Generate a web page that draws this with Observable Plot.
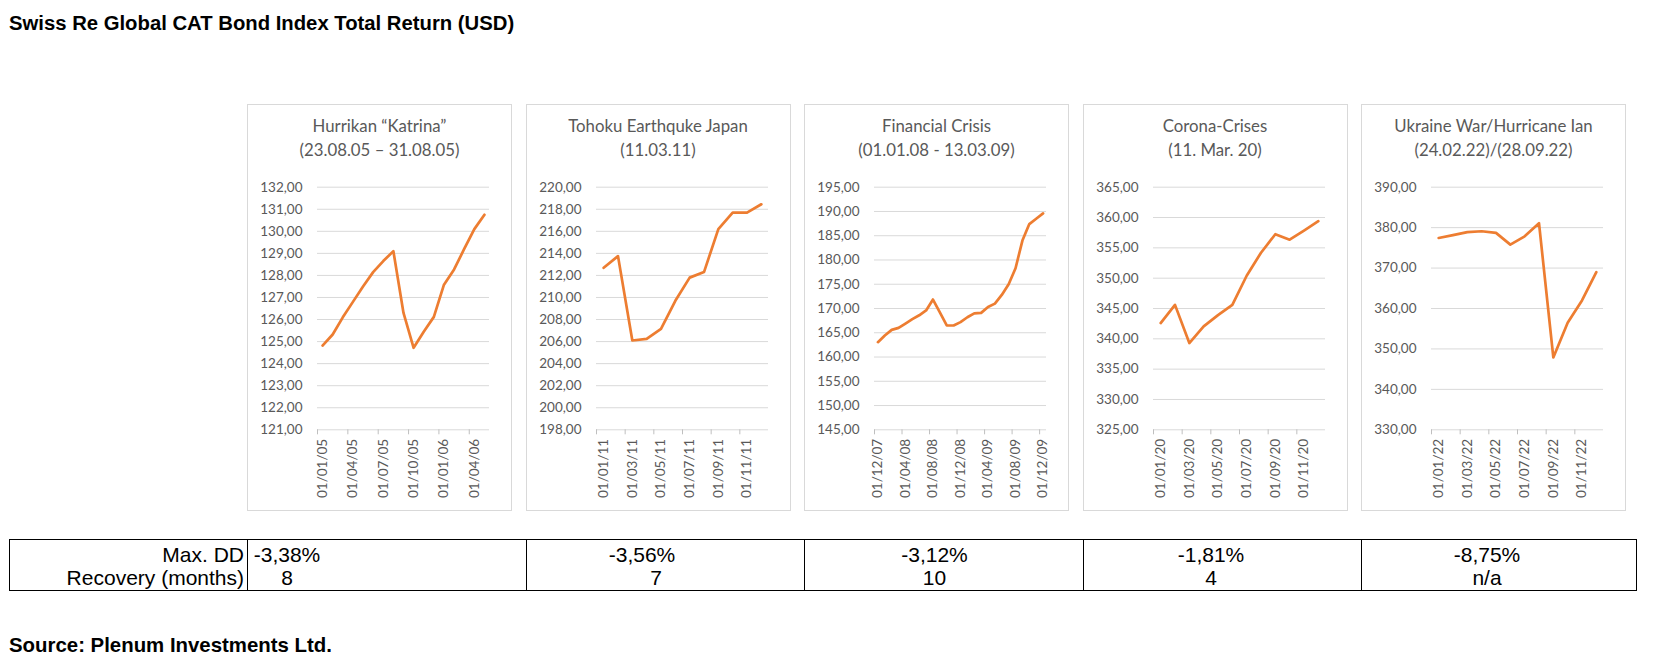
<!DOCTYPE html>
<html><head><meta charset="utf-8">
<script src="https://cdn.jsdelivr.net/npm/d3@7"></script>
<script src="https://cdn.jsdelivr.net/npm/@observablehq/plot@0.6"></script>
<style>
html,body{margin:0;padding:0;background:#fff;}
#root{position:relative;width:1665px;height:668px;overflow:hidden;font-family:"Liberation Sans",Arial,sans-serif;color:#000;}
.title{position:absolute;left:9px;top:11px;font-weight:bold;font-size:20.3px;line-height:24px;white-space:nowrap;}
.source{position:absolute;left:9px;top:633px;font-weight:bold;font-size:20.4px;line-height:24px;white-space:nowrap;}
.panel{position:absolute;top:104px;width:265px;height:407px;box-sizing:border-box;border:1px solid #d9d9d9;}
.plot{position:absolute;top:101px;width:265px;height:410px;}
.ptitle{position:absolute;top:114px;width:265px;text-align:center;font-family:Lato,sans-serif;font-size:16.8px;line-height:24px;color:#595959;white-space:nowrap;}
.tbl{position:absolute;left:9px;top:539px;width:1628px;height:52px;box-sizing:border-box;border:1px solid #000;}
.vline{position:absolute;top:539px;width:1px;height:52px;background:#000;}
.cell{position:absolute;font-size:21px;line-height:23px;white-space:nowrap;}
</style></head>
<body><div id="root"></div>
<script>
// ---------- data ----------
const chartTitle = "Swiss Re Global CAT Bond Index Total Return (USD)";
const sourceText = "Source: Plenum Investments Ltd.";

const titles1 = ["Hurrikan “Katrina”", "Tohoku Earthquke Japan", "Financial Crisis", "Corona-Crises", "Ukraine War/Hurricane Ian"];
const titles2 = ["(23.08.05 – 31.08.05)", "(11.03.11)", "(01.01.08 - 13.03.09)", "(11. Mar. 20)", "(24.02.22)/(28.09.22)"];

const months1 = ["01/01/05","01/02/05","01/03/05","01/04/05","01/05/05","01/06/05","01/07/05","01/08/05","01/09/05","01/10/05","01/11/05","01/12/05","01/01/06","01/02/06","01/03/06","01/04/06","01/05/06"];
const values1 = [124.82,125.32,126.10,126.80,127.50,128.15,128.65,129.10,126.30,124.72,125.45,126.12,127.58,128.27,129.20,130.10,130.75];
const yTicks1 = [121,122,123,124,125,126,127,128,129,130,131,132];

const months2 = ["01/01/11","01/02/11","01/03/11","01/04/11","01/05/11","01/06/11","01/07/11","01/08/11","01/09/11","01/10/11","01/11/11","01/12/11"];
const values2 = [212.69,213.75,206.10,206.25,207.15,209.70,211.80,212.30,216.20,217.70,217.70,218.45];
const yTicks2 = [198,200,202,204,206,208,210,212,214,216,218,220];

const months3 = ["01/12/07","01/01/08","01/02/08","01/03/08","01/04/08","01/05/08","01/06/08","01/07/08","01/08/08","01/09/08","01/10/08","01/11/08","01/12/08","01/01/09","01/02/09","01/03/09","01/04/09","01/05/09","01/06/09","01/07/09","01/08/09","01/09/09","01/10/09","01/11/09","01/12/09"];
const values3 = [163.06,164.44,165.60,166.00,166.90,167.80,168.60,169.60,171.85,169.20,166.50,166.50,167.20,168.20,169.00,169.10,170.30,171.00,172.80,175.00,178.30,184.00,187.40,188.50,189.60];
const yTicks3 = [145,150,155,160,165,170,175,180,185,190,195];

const months4 = ["01/01/20","01/02/20","01/03/20","01/04/20","01/05/20","01/06/20","01/07/20","01/08/20","01/09/20","01/10/20","01/11/20","01/12/20"];
const values4 = [342.60,345.60,339.30,342.05,343.90,345.60,350.40,354.20,357.25,356.35,357.85,359.40];
const yTicks4 = [325,330,335,340,345,350,355,360,365];

const months5 = ["01/01/22","01/02/22","01/03/22","01/04/22","01/05/22","01/06/22","01/07/22","01/08/22","01/09/22","01/10/22","01/11/22","01/12/22"];
const values5 = [377.44,378.15,378.90,379.10,378.70,375.80,377.85,381.10,347.90,356.50,362.00,369.00];
const yTicks5 = [330,340,350,360,370,380,390];

const labelSteps = [3, 2, 4, 2, 2];

const rowLabels = ["Max. DD", "Recovery (months)"];
const maxDD = ["-3,38%", "-3,56%", "-3,12%", "-1,81%", "-8,75%"];
const recovery = ["8", "7", "10", "4", "n/a"];

// ---------- layout ----------
const root = document.getElementById("root");
function add(cls, text, style) {
  const d = document.createElement("div");
  d.className = cls;
  if (text != null) d.textContent = text;
  Object.assign(d.style, style || {});
  root.appendChild(d);
  return d;
}
add("title", chartTitle);
add("source", sourceText);

const panels = [
  [months1, values1, yTicks1],
  [months2, values2, yTicks2],
  [months3, values3, yTicks3],
  [months4, values4, yTicks4],
  [months5, values5, yTicks5]
];
const left0 = 247, step = 278.5;
const fmt = d => d.toFixed(2).replace(".", ",");

panels.forEach(([months, values, yTicks], k) => {
  const L = left0 + step * k;
  add("panel", null, {left: L + "px"});
  const t = add("ptitle", null, {left: L + "px"});
  const l1 = document.createElement("div"); l1.textContent = titles1[k];
  const l2 = document.createElement("div"); l2.textContent = titles2[k];
  t.appendChild(l1); t.appendChild(l2);

  const n = months.length;
  const rows = values.map((v, i) => ({pos: i + 0.5, value: v, month: months[i]}));
  const bounds = d3.range(0, n, labelSteps[k]);
  const centers = bounds.map(b => b + 0.5);
  const svg = Plot.plot({
    width: 265, height: 410,
    marginLeft: 70, marginRight: 23, marginTop: 85.7, marginBottom: 81.7,
    x: {domain: [0, n], label: null},
    y: {domain: [yTicks[0], yTicks[yTicks.length - 1]], label: null},
    style: {fontFamily: "Lato, sans-serif", fontSize: "13.5px", color: "#595959", background: "transparent", overflow: "visible"},
    marks: [
      Plot.gridY(yTicks, {stroke: "#d9d9d9", strokeOpacity: 1, strokeWidth: 1}),
      Plot.axisY(yTicks, {tickSize: 0, tickPadding: 15, tickFormat: fmt, label: null, fill: "#595959"}),
      Plot.axisX(bounds, {tickSize: 5, tickFormat: () => "", stroke: "#bfbfbf", label: null}),
      Plot.axisX(centers, {tickSize: 0, tickPadding: 9, tickRotate: -90, tickFormat: d => months[Math.round(d - 0.5)], label: null, fill: "#595959"}),
      Plot.line(rows, {x: "pos", y: "value", stroke: "#ED7D31", strokeWidth: 2.7, strokeLinejoin: "round", strokeLinecap: "round"})
    ]
  });
  const wrap = add("plot", null, {left: L + "px"});
  wrap.appendChild(svg);
});

// table
add("tbl");
for (let k = 0; k < 5; k++) add("vline", null, {left: (left0 + step * k) + "px"});
const rowTops = [542.5, 565.5];
const valueCenters = [[287, 642, 934.5, 1211, 1487], [287, 656, 934.5, 1211, 1487]];
[maxDD, recovery].forEach((arr, r) => {
  add("cell", rowLabels[r], {top: rowTops[r] + "px", left: "0px", width: "244px", textAlign: "right"});
  arr.forEach((txt, k) => {
    const cx = valueCenters[r][k];
    add("cell", txt, {top: rowTops[r] + "px", left: (cx - 60) + "px", width: "120px", textAlign: "center"});
  });
});
</script>
</body></html>
